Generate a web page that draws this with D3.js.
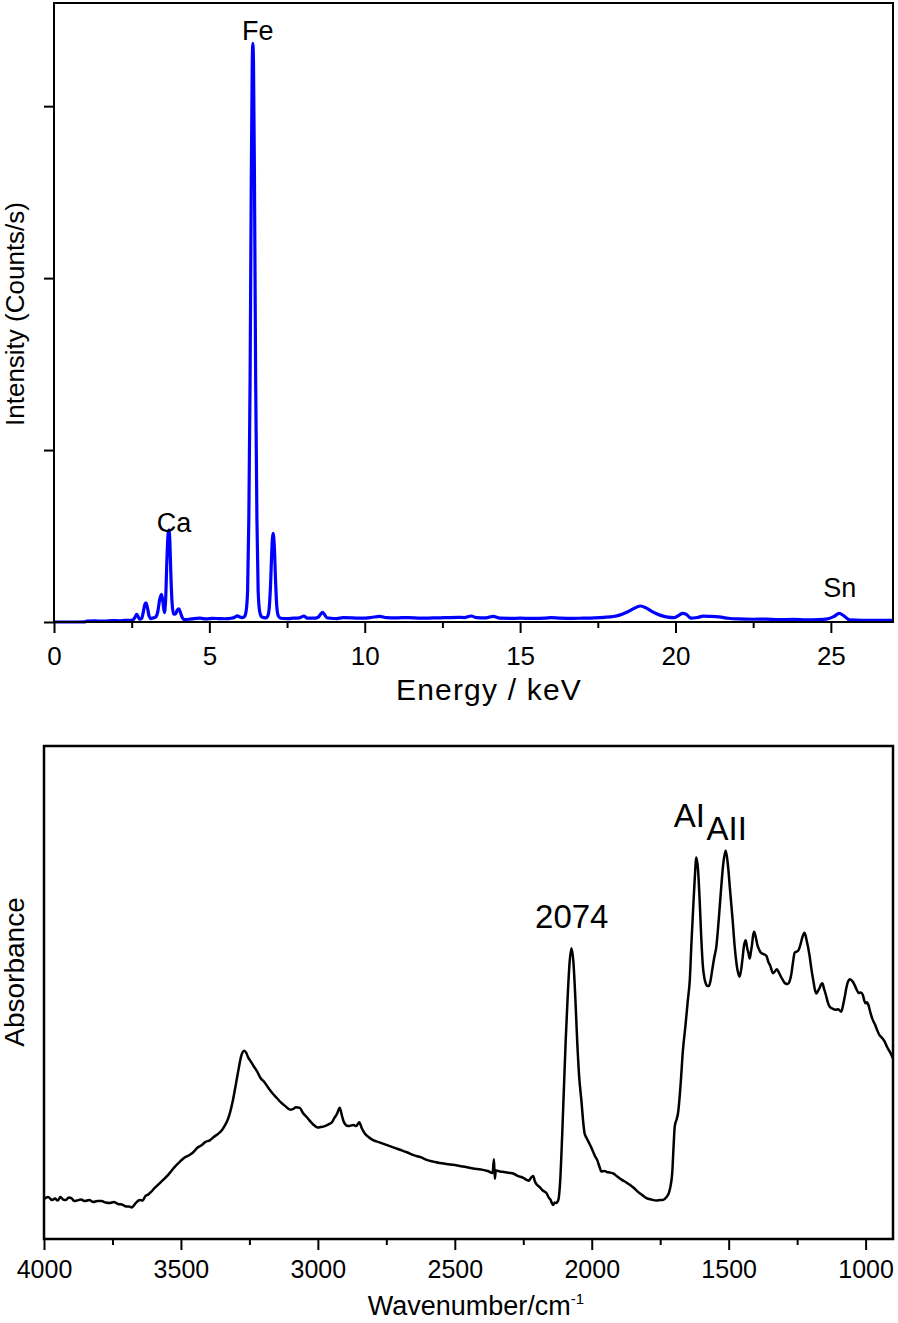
<!DOCTYPE html>
<html>
<head>
<meta charset="utf-8">
<script src="https://cdn.jsdelivr.net/npm/d3@7"></script>
<style>
  html, body { margin: 0; padding: 0; background: #fff; }
  svg { display: block; }
  text { font-family: "Liberation Sans", Arial, sans-serif; fill: #000; }
</style>
</head>
<body>
<script>
// ---------------- DATA ----------------
// Top: XRF spectrum, [energy keV, intensity counts/s]
const xrfSpectrum = [
  [0,0],[0.5,0],[1.0,1],[1.05,5],[1.3,6],[1.6,5],[1.9,8],[2.1,7],[2.3,10],[2.45,9],
  [2.55,14],[2.62,32],[2.66,45],[2.71,30],[2.76,16],[2.82,20],[2.87,55],[2.92,100],[2.96,112],
  [3.01,80],[3.06,35],[3.12,20],[3.2,24],[3.28,30],[3.34,60],[3.40,130],[3.46,161],[3.51,110],
  [3.55,55],[3.59,120],[3.63,340],[3.67,510],[3.70,535],[3.73,460],[3.76,280],[3.80,110],
  [3.85,45],[3.92,50],[3.97,70],[4.02,76],[4.07,55],[4.13,25],[4.2,14],[4.35,16],[4.5,20],
  [4.7,22],[4.9,18],[5.1,21],[5.3,20],[5.5,19],[5.7,22],[5.82,28],[5.9,36],[5.97,30],[6.05,26],
  [6.12,30],[6.18,60],[6.23,180],[6.27,600],[6.31,1400],[6.35,2600],[6.38,3250],[6.40,3366],
  [6.42,3250],[6.45,2600],[6.49,1400],[6.53,600],[6.57,180],[6.62,60],[6.68,30],[6.75,25],
  [6.82,24],[6.88,35],[6.93,90],[6.97,220],[7.01,420],[7.05,516],[7.09,440],[7.13,240],
  [7.17,90],[7.22,35],[7.3,22],[7.5,20],[7.7,22],[7.9,24],[8.05,35],[8.15,22],[8.35,22],
  [8.5,28],[8.58,45],[8.64,56],[8.7,45],[8.78,25],[8.9,22],[9.1,20],[9.3,25],[9.6,24],[9.9,22],
  [10.2,26],[10.48,33],[10.7,25],[11.0,24],[11.4,26],[11.8,22],[12.2,24],[12.6,25],[13.0,27],
  [13.2,26],[13.43,35],[13.6,25],[13.9,24],[14.13,33],[14.35,22],[14.7,21],[15.0,22],[15.4,21],
  [15.8,22],[16.0,26],[16.3,22],[16.7,21],[17.0,22],[17.4,24],[17.7,27],[18.0,32],[18.2,40],
  [18.45,58],[18.65,78],[18.87,93],[19.05,82],[19.25,60],[19.5,40],[19.75,28],[19.95,25],
  [20.1,38],[20.23,50],[20.35,44],[20.5,22],[20.7,26],[20.9,34],[21.1,33],[21.4,30],[21.7,22],
  [22.0,18],[22.5,16],[22.9,17],[23.3,14],[23.8,15],[24.2,13],[24.6,14],[24.9,18],[25.1,32],
  [25.27,50],[25.42,36],[25.6,12],[26.0,10],[26.5,10],[27,10]
];
const xrfMajorTicks = [0, 5, 10, 15, 20, 25];
const xrfMinorTicks = [2.5, 7.5, 12.5, 17.5, 22.5];
const xrfYTicks = [0, 1000, 2000, 3000];
const xrfLabels = [
  { text: "Fe", e: 6.56, c: 3384 },
  { text: "Ca", e: 3.86, c: 525 },
  { text: "Sn", e: 25.29, c: 145 }
];

// Bottom: FTIR spectrum, [wavenumber cm-1, absorbance a.u.]
const ftirSpectrum = [
  [4000,0.081],[3985,0.085],[3970,0.079],[3960,0.082],[3950,0.078],[3940,0.085],[3930,0.080],
  [3920,0.079],[3910,0.084],[3900,0.083],[3890,0.077],[3880,0.078],[3865,0.080],[3850,0.077],
  [3835,0.079],[3820,0.075],[3805,0.077],[3790,0.077],[3775,0.074],[3760,0.073],[3745,0.075],
  [3730,0.071],[3715,0.070],[3700,0.066],[3690,0.066],[3680,0.064],[3672,0.068],[3665,0.073],
  [3650,0.079],[3640,0.078],[3630,0.087],[3620,0.090],[3610,0.095],[3595,0.104],[3580,0.112],
  [3565,0.120],[3550,0.128],[3535,0.138],[3520,0.148],[3505,0.156],[3490,0.164],[3470,0.170],
  [3455,0.176],[3440,0.185],[3425,0.190],[3410,0.197],[3395,0.200],[3380,0.207],[3365,0.213],
  [3350,0.221],[3340,0.230],[3330,0.241],[3320,0.258],[3310,0.282],[3300,0.312],[3290,0.343],
  [3280,0.371],[3269,0.382],[3262,0.378],[3255,0.369],[3245,0.360],[3235,0.351],[3222,0.340],
  [3210,0.327],[3195,0.318],[3180,0.306],[3165,0.295],[3150,0.286],[3135,0.277],[3120,0.270],
  [3100,0.262],[3090,0.264],[3080,0.267],[3066,0.266],[3055,0.256],[3040,0.247],[3025,0.237],
  [3010,0.229],[3000,0.226],[2990,0.227],[2975,0.229],[2960,0.233],[2950,0.236],[2940,0.245],
  [2930,0.254],[2920,0.266],[2912,0.250],[2905,0.237],[2890,0.229],[2870,0.231],[2860,0.229],
  [2849,0.237],[2840,0.225],[2830,0.215],[2815,0.207],[2800,0.201],[2775,0.196],[2750,0.191],
  [2725,0.186],[2700,0.181],[2675,0.176],[2650,0.170],[2625,0.166],[2600,0.160],[2578,0.157],
  [2555,0.154],[2530,0.152],[2500,0.150],[2470,0.147],[2433,0.143],[2405,0.141],[2380,0.138],
  [2362,0.134],[2357,0.162],[2354,0.122],[2350,0.139],[2335,0.137],[2320,0.136],[2300,0.134],
  [2287,0.133],[2270,0.128],[2250,0.124],[2238,0.120],[2230,0.118],[2222,0.124],[2214,0.128],
  [2207,0.116],[2200,0.110],[2190,0.105],[2180,0.099],[2172,0.096],[2165,0.093],[2157,0.084],
  [2150,0.079],[2145,0.072],[2141,0.069],[2135,0.074],[2130,0.073],[2122,0.079],[2115,0.120],
  [2108,0.210],[2102,0.300],[2095,0.404],[2088,0.490],[2081,0.560],[2074,0.590],[2067,0.562],
  [2060,0.490],[2053,0.400],[2046,0.330],[2038,0.282],[2030,0.231],[2026,0.214],[2018,0.204],
  [2010,0.195],[2002,0.186],[1995,0.177],[1988,0.168],[1980,0.160],[1972,0.147],[1965,0.137],
  [1955,0.138],[1945,0.136],[1935,0.135],[1922,0.133],[1905,0.126],[1890,0.120],[1875,0.115],
  [1861,0.110],[1845,0.103],[1830,0.095],[1815,0.089],[1800,0.083],[1782,0.080],[1764,0.078],
  [1750,0.079],[1740,0.079],[1727,0.085],[1718,0.094],[1712,0.108],[1706,0.135],[1701,0.190],
  [1697,0.228],[1690,0.243],[1685,0.255],[1676,0.310],[1667,0.383],[1658,0.432],[1649,0.485],
  [1642,0.525],[1636,0.600],[1630,0.667],[1624,0.730],[1618,0.774],[1612,0.750],[1606,0.688],
  [1600,0.610],[1594,0.552],[1589,0.530],[1584,0.519],[1578,0.513],[1572,0.513],[1566,0.525],
  [1560,0.546],[1553,0.570],[1545,0.593],[1536,0.650],[1528,0.708],[1520,0.760],[1511,0.788],
  [1503,0.760],[1495,0.708],[1486,0.650],[1478,0.593],[1468,0.546],[1460,0.532],[1454,0.548],
  [1450,0.566],[1444,0.595],[1438,0.606],[1433,0.592],[1428,0.580],[1423,0.569],[1419,0.582],
  [1415,0.596],[1411,0.615],[1407,0.623],[1401,0.612],[1395,0.596],[1388,0.586],[1381,0.580],
  [1372,0.578],[1362,0.574],[1355,0.562],[1348,0.554],[1338,0.539],[1331,0.543],[1324,0.547],
  [1317,0.541],[1310,0.533],[1302,0.525],[1295,0.519],[1284,0.517],[1278,0.522],[1272,0.535],
  [1265,0.562],[1259,0.581],[1252,0.583],[1245,0.586],[1238,0.597],[1231,0.612],[1223,0.621],
  [1215,0.605],[1205,0.576],[1198,0.548],[1190,0.521],[1185,0.505],[1180,0.498],[1174,0.503],
  [1168,0.509],[1163,0.516],[1158,0.519],[1152,0.508],[1145,0.495],[1138,0.480],[1131,0.471],
  [1120,0.467],[1110,0.465],[1100,0.466],[1089,0.461],[1082,0.475],[1075,0.495],[1070,0.510],
  [1065,0.521],[1061,0.525],[1057,0.527],[1050,0.524],[1040,0.515],[1032,0.505],[1025,0.499],
  [1018,0.500],[1010,0.495],[1005,0.484],[1000,0.478],[995,0.480],[990,0.475],[982,0.458],
  [975,0.446],[965,0.434],[958,0.424],[950,0.414],[940,0.408],[930,0.400],[922,0.390],
  [915,0.383],[908,0.376],[903,0.370],[900,0.367]
];
const ftirMajorTicks = [4000, 3500, 3000, 2500, 2000, 1500, 1000];
const ftirMinorTicks = [3750, 3250, 2750, 2250, 1750, 1250];
const ftirLabels = [
  { text: "2074", w: 2073, a: 0.630, anchor: "middle" },
  { text: "AI", w: 1701, a: 0.836, anchor: "start" },
  { text: "AII", w: 1581, a: 0.809, anchor: "start" }
];

// ---------------- DRAW ----------------
const W = 898, H = 1323;
const svg = d3.select("body").append("svg").attr("width", W).attr("height", H);

// ===== Top chart =====
const t = { left: 54, right: 893, top: 3, bottom: 622 };
const xT = d3.scaleLinear().domain([0, 27]).range([t.left, t.right]);
const yT = d3.scaleLinear().domain([0, 3600]).range([t.bottom, t.top]);

const gTop = svg.append("g");

// spectrum
gTop.append("path")
  .datum(xrfSpectrum)
  .attr("fill", "none")
  .attr("stroke", "#0000ff")
  .attr("stroke-width", 3.2)
  .attr("stroke-linejoin", "round")
  .attr("d", d3.line().x(d => xT(d[0])).y(d => yT(d[1])).curve(d3.curveMonotoneX));

// frame
gTop.append("rect")
  .attr("x", t.left).attr("y", t.top)
  .attr("width", t.right - t.left).attr("height", t.bottom - t.top)
  .attr("fill", "none").attr("stroke", "#000").attr("stroke-width", 2);

// x axis major
const xAxT = gTop.append("g").attr("transform", `translate(0,${t.bottom})`)
  .call(d3.axisBottom(xT).tickValues(xrfMajorTicks).tickSize(11).tickFormat(d3.format("d")));
xAxT.select(".domain").remove();
xAxT.selectAll(".tick line").attr("stroke", "#000").attr("stroke-width", 2);
xAxT.selectAll(".tick text").attr("y", 43).attr("dy", 0)
  .style("font-size", "26px").style("font-family", "'Liberation Sans', Arial, sans-serif");
// x axis minor
const xAxTm = gTop.append("g").attr("transform", `translate(0,${t.bottom})`)
  .call(d3.axisBottom(xT).tickValues(xrfMinorTicks).tickSize(6).tickFormat(""));
xAxTm.select(".domain").remove();
xAxTm.selectAll(".tick line").attr("stroke", "#000").attr("stroke-width", 2);

// y axis ticks (no labels)
const yAxT = gTop.append("g").attr("transform", `translate(${t.left},0)`)
  .call(d3.axisLeft(yT).tickValues(xrfYTicks).tickSize(10).tickFormat(""));
yAxT.select(".domain").remove();
yAxT.selectAll(".tick line").attr("stroke", "#000").attr("stroke-width", 2);

// labels
gTop.selectAll("text.peak").data(xrfLabels).join("text")
  .attr("class", "peak")
  .attr("x", d => xT(d.e)).attr("y", d => yT(d.c))
  .attr("text-anchor", "middle")
  .style("font-size", "27px")
  .text(d => d.text);

// axis titles
gTop.append("text")
  .attr("x", 489).attr("y", 700)
  .attr("text-anchor", "middle")
  .style("font-size", "30px")
  .style("letter-spacing", "1.2px")
  .text("Energy / keV");
gTop.append("text")
  .attr("transform", "translate(24,314) rotate(-90)")
  .attr("text-anchor", "middle")
  .style("font-size", "26px")
  .text("Intensity (Counts/s)");

// ===== Bottom chart =====
const b = { left: 44, right: 893, top: 746, bottom: 1239 };
const xB = d3.scaleLinear().domain([4000, 900]).range([b.left, b.right]);
const yB = d3.scaleLinear().domain([0, 1]).range([b.bottom, b.top]);

const gBot = svg.append("g");

gBot.append("path")
  .datum(ftirSpectrum)
  .attr("fill", "none")
  .attr("stroke", "#000")
  .attr("stroke-width", 2.5)
  .attr("stroke-linejoin", "round")
  .attr("d", d3.line().x(d => xB(d[0])).y(d => yB(d[1])).curve(d3.curveMonotoneX));

gBot.append("rect")
  .attr("x", b.left).attr("y", b.top)
  .attr("width", b.right - b.left).attr("height", b.bottom - b.top)
  .attr("fill", "none").attr("stroke", "#000").attr("stroke-width", 2.5);

const xAxB = gBot.append("g").attr("transform", `translate(0,${b.bottom})`)
  .call(d3.axisBottom(xB).tickValues(ftirMajorTicks).tickSize(11).tickFormat(d3.format("d")));
xAxB.select(".domain").remove();
xAxB.selectAll(".tick line").attr("stroke", "#000").attr("stroke-width", 2);
xAxB.selectAll(".tick text").attr("y", 39).attr("dy", 0)
  .style("font-size", "25px").style("font-family", "'Liberation Sans', Arial, sans-serif");
const xAxBm = gBot.append("g").attr("transform", `translate(0,${b.bottom})`)
  .call(d3.axisBottom(xB).tickValues(ftirMinorTicks).tickSize(6).tickFormat(""));
xAxBm.select(".domain").remove();
xAxBm.selectAll(".tick line").attr("stroke", "#000").attr("stroke-width", 2);

gBot.selectAll("text.peak").data(ftirLabels).join("text")
  .attr("class", "peak")
  .attr("x", d => xB(d.w)).attr("y", d => yB(d.a))
  .attr("text-anchor", d => d.anchor)
  .style("font-size", "33px")
  .text(d => d.text);

const wt = gBot.append("text")
  .attr("x", 476).attr("y", 1315)
  .attr("text-anchor", "middle")
  .style("font-size", "27px");
wt.append("tspan").text("Wavenumber/cm");
wt.append("tspan").attr("dy", -11).style("font-size", "15px").text("-1");

gBot.append("text")
  .attr("transform", "translate(24,972) rotate(-90)")
  .attr("text-anchor", "middle")
  .style("font-size", "28px")
  .text("Absorbance");
</script>
</body>
</html>
